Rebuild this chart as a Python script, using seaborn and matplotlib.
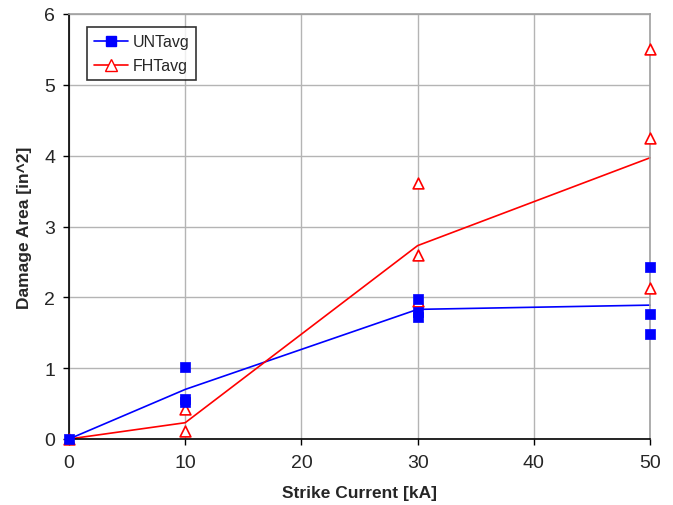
import numpy as np
import pandas as pd
import matplotlib
matplotlib.use("Agg")
import matplotlib.pyplot as plt
import seaborn as sns
from matplotlib.lines import Line2D

sns.set_style("white")
plt.rcParams['font.family'] = ['Liberation Sans', 'DejaVu Sans']

# individual test points
unt_x = [0, 10, 10, 10, 30, 30, 30, 50, 50, 50]
unt_y = [0.0, 1.02, 0.57, 0.52, 1.97, 1.80, 1.72, 2.43, 1.76, 1.48]
fht_x = [0, 10, 10, 30, 30, 30, 50, 50, 50]
fht_y = [0.0, 0.42, 0.12, 3.62, 2.60, 1.95, 5.50, 4.25, 2.13]

# averages (lines)
avg_x = [0, 10, 30, 50]
unt_avg = [0.0, 0.70, 1.83, 1.89]
fht_avg = [0.0, 0.23, 2.73, 3.97]

pts = pd.concat([
    pd.DataFrame({"current": unt_x, "area": unt_y, "series": "UNTavg"}),
    pd.DataFrame({"current": fht_x, "area": fht_y, "series": "FHTavg"}),
])
lines = pd.DataFrame({"current": avg_x * 2,
                      "area": unt_avg + fht_avg,
                      "series": ["UNTavg"] * 4 + ["FHTavg"] * 4})

fig = plt.figure(figsize=(6.73, 5.06), dpi=100)
ax = fig.add_axes([69 / 673, 66 / 506, 581 / 673, 425 / 506])

sns.lineplot(data=lines, x="current", y="area", hue="series",
             palette={"UNTavg": "#0000ff", "FHTavg": "#ff0000"},
             linewidth=1.2, legend=False, ax=ax, clip_on=False)

unt = pts[pts.series == "UNTavg"]
fht = pts[pts.series == "FHTavg"]
sns.scatterplot(data=fht, x="current", y="area", marker="^", s=60,
                facecolor="white", edgecolor="#ff0000", linewidth=1.2,
                ax=ax, clip_on=False, zorder=3)
sns.scatterplot(data=unt, x="current", y="area", marker="s", s=50,
                color="#0000ff", edgecolor="#0000ff", linewidth=0.5,
                ax=ax, clip_on=False, zorder=4)

ax.set_xlim(0, 50)
ax.set_ylim(0, 6)
ax.set_xticks([0, 10, 20, 30, 40, 50])
ax.set_yticks([0, 1, 2, 3, 4, 5, 6])
ax.grid(True, color="#b4b4b4", linewidth=1)
ax.set_axisbelow(True)
for s in ["top", "right"]:
    ax.spines[s].set_color("#a0a0a0")
    ax.spines[s].set_linewidth(1.2)
for s in ["left", "bottom"]:
    ax.spines[s].set_color("black")
    ax.spines[s].set_linewidth(1.2)
ax.tick_params(axis="both", direction="out", length=4, width=1, color="black",
               labelsize=14, pad=6, left=True, bottom=True)
ax.tick_params(axis="x", pad=7)

ax.set_xlabel("Strike Current [kA]", fontsize=12.5, fontweight="bold", labelpad=10)
ax.set_ylabel("Damage Area [in^2]", fontsize=12.5, fontweight="bold", labelpad=9)

handles = [
    Line2D([], [], color="#0000ff", marker="s", markersize=7, linewidth=1.2),
    Line2D([], [], color="#ff0000", marker="^", markersize=9, markerfacecolor="white",
           linewidth=1.2),
]
leg = ax.legend(handles, ["UNTavg", "FHTavg"], loc="upper left",
                bbox_to_anchor=(0.031, 0.969), fontsize=11.5, frameon=True,
                fancybox=False, edgecolor="black", handlelength=2.1,
                borderpad=0.45, labelspacing=0.55, handletextpad=0.3,
                borderaxespad=0)
leg.get_frame().set_linewidth(1.2)

fig.savefig("out.png", dpi=100)
